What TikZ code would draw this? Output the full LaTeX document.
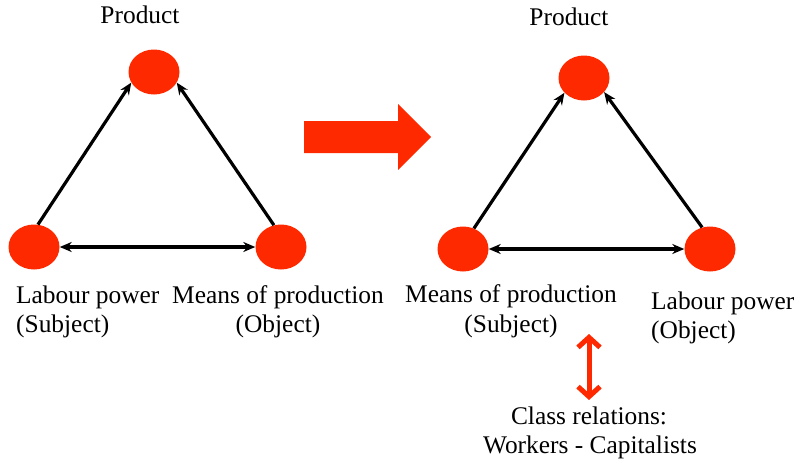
\documentclass[tikz,border=0pt]{standalone}
\usepackage{fontspec}
\setmainfont{Liberation Serif}
\usetikzlibrary{arrows.meta,shapes.geometric}
\definecolor{redfill}{RGB}{255,41,0}
\tikzset{
  blob/.style={ellipse, fill=redfill, draw=none, minimum width=51pt, minimum height=45pt, inner sep=0pt},
  link/.style={line width=3.2pt, -{Stealth[length=12pt,width=10pt]}},
  dlink/.style={line width=3.2pt, {Stealth[length=12pt,width=10pt]}-{Stealth[length=12pt,width=10pt]}},
  lbl/.style={inner sep=0pt, font=\rmfamily\fontsize{25.4}{30}\selectfont},
}
\begin{document}
\begin{tikzpicture}[x=1pt,y=-1pt]
\useasboundingbox (0,0) rectangle (796,461);
% left triangle
\node[blob] (lt) at (154,72) {};
\node[blob] (ll) at (34,247) {};
\node[blob] (lr) at (281,247) {};
\draw[link] (ll.80) -- (lt.205);
\draw[link] (lr.108) -- (lt.335);
\draw[dlink] (ll.east) -- (lr.west);
\node[lbl, anchor=base] (lprod) at (140,23) {Product};
\node[lbl, anchor=base west] (llab1) at (16,303) {Labour power};
\node[lbl, anchor=base west] (llab2) at (16,332) {(Subject)};
\node[lbl, anchor=base] (lmop1) at (278,303) {Means of production};
\node[lbl, anchor=base] (lmop2) at (278,332) {(Object)};
% big arrow
\fill[redfill] (304,121) -- (398,121) -- (398,104) -- (431,137) -- (398,170) -- (398,153) -- (304,153) -- cycle;
% right triangle
\node[blob] (rt) at (584,78) {};
\node[blob] (rl) at (463,249) {};
\node[blob] (rr) at (710,249) {};
\draw[link] (rl.62) -- (rt.217);
\draw[link] (rr.110) -- (rt.325);
\draw[dlink] (rl.east) -- (rr.west);
\node[lbl, anchor=base] (rprod) at (569,25) {Product};
\node[lbl, anchor=base] (rmop1) at (511,302) {Means of production};
\node[lbl, anchor=base] (rmop2) at (511,332) {(Subject)};
\node[lbl, anchor=base west] (rlab1) at (651,309) {Labour power};
\node[lbl, anchor=base west] (rlab2) at (651,338) {(Object)};
% class relation
\coordinate (ca) at (589,334);
\coordinate (cb) at (589,400);
\draw[redfill, line width=5pt, {Straight Barb[length=10pt,width=22pt]}-{Straight Barb[length=10pt,width=22pt]}] (ca) -- (cb);
\node[lbl, anchor=base] (cls1) at (589,424) {Class relations:};
\node[lbl, anchor=base] (cls2) at (590,453) {Workers - Capitalists};
\end{tikzpicture}
\end{document}
